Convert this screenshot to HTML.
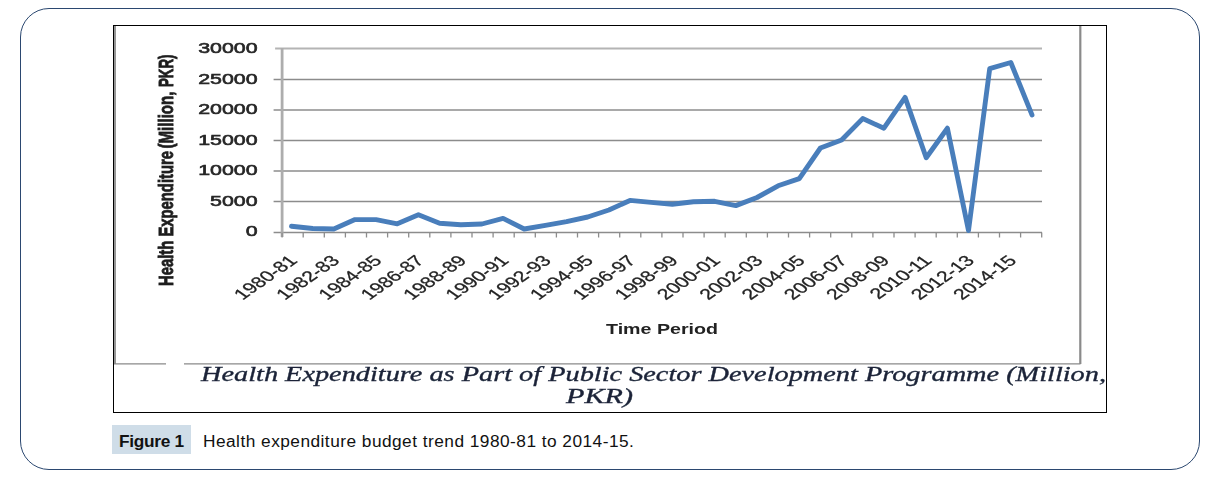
<!DOCTYPE html>
<html><head><meta charset="utf-8"><title>Figure 1</title>
<style>
html,body{margin:0;padding:0;background:#fff;}
body{width:1212px;height:481px;position:relative;overflow:hidden;font-family:"Liberation Sans",sans-serif;}
.outer{position:absolute;left:20px;top:8px;width:1180px;height:462px;border:1px solid #2b4870;border-radius:29px;box-sizing:border-box;}
.chart{position:absolute;left:0;top:0;}
.cap{position:absolute;left:112px;top:426.5px;height:29px;line-height:29px;font-size:17.3px;color:#111;white-space:nowrap;letter-spacing:0.47px;}
.cap b{letter-spacing:-0.3px;display:inline-block;width:79px;text-align:center;margin-right:12px;}
.capbg{position:absolute;left:112px;top:425px;width:79px;height:29px;background:#cfdde8;}
</style></head><body>
<div class="outer"></div>
<svg class="chart" width="1212" height="481" viewBox="0 0 1212 481">
<rect x="113.5" y="25.5" width="993" height="387" fill="#fff" stroke="#000" stroke-width="1"/>
<defs><filter id="soft" x="-2%" y="-2%" width="104%" height="104%"><feGaussianBlur stdDeviation="0.55"/></filter></defs>
<g filter="url(#soft)">
<g stroke="#8a8a8a" fill="none">
<line x1="115" x2="115" y1="26" y2="364" stroke-width="2" stroke="#969696"/>
<line x1="114" x2="166" y1="363.8" y2="363.8" stroke-width="1.3"/>
<line x1="184" x2="1080.5" y1="363.8" y2="363.8" stroke-width="1.3"/>
<line x1="1080.3" x2="1080.3" y1="26" y2="364" stroke-width="2.2"/>
</g>
<g stroke="#8c8c8c" stroke-width="1.3"><line x1="273.6" x2="1042" y1="232.5" y2="232.5"/><line x1="273.6" x2="1042" y1="201.5" y2="201.5"/><line x1="273.6" x2="1042" y1="171.0" y2="171.0"/><line x1="273.6" x2="1042" y1="140.5" y2="140.5"/><line x1="273.6" x2="1042" y1="110.0" y2="110.0"/><line x1="273.6" x2="1042" y1="79.5" y2="79.5"/><line x1="275.1" x2="1042" y1="48.5" y2="48.5" stroke="#b4b4b4" stroke-width="2"/><line x1="282.1" x2="282.1" y1="48.0" y2="237" stroke="#adadad" stroke-width="2.8"/><line x1="282.1" x2="282.1" y1="232.5" y2="237.5"/><line x1="303.2" x2="303.2" y1="232.5" y2="237.5"/><line x1="324.3" x2="324.3" y1="232.5" y2="237.5"/><line x1="345.4" x2="345.4" y1="232.5" y2="237.5"/><line x1="366.5" x2="366.5" y1="232.5" y2="237.5"/><line x1="387.6" x2="387.6" y1="232.5" y2="237.5"/><line x1="408.7" x2="408.7" y1="232.5" y2="237.5"/><line x1="429.8" x2="429.8" y1="232.5" y2="237.5"/><line x1="450.9" x2="450.9" y1="232.5" y2="237.5"/><line x1="472.0" x2="472.0" y1="232.5" y2="237.5"/><line x1="493.1" x2="493.1" y1="232.5" y2="237.5"/><line x1="514.2" x2="514.2" y1="232.5" y2="237.5"/><line x1="535.3" x2="535.3" y1="232.5" y2="237.5"/><line x1="556.4" x2="556.4" y1="232.5" y2="237.5"/><line x1="577.5" x2="577.5" y1="232.5" y2="237.5"/><line x1="598.6" x2="598.6" y1="232.5" y2="237.5"/><line x1="619.7" x2="619.7" y1="232.5" y2="237.5"/><line x1="640.8" x2="640.8" y1="232.5" y2="237.5"/><line x1="661.9" x2="661.9" y1="232.5" y2="237.5"/><line x1="683.0" x2="683.0" y1="232.5" y2="237.5"/><line x1="704.1" x2="704.1" y1="232.5" y2="237.5"/><line x1="725.2" x2="725.2" y1="232.5" y2="237.5"/><line x1="746.3" x2="746.3" y1="232.5" y2="237.5"/><line x1="767.4" x2="767.4" y1="232.5" y2="237.5"/><line x1="788.5" x2="788.5" y1="232.5" y2="237.5"/><line x1="809.6" x2="809.6" y1="232.5" y2="237.5"/><line x1="830.7" x2="830.7" y1="232.5" y2="237.5"/><line x1="851.8" x2="851.8" y1="232.5" y2="237.5"/><line x1="872.9" x2="872.9" y1="232.5" y2="237.5"/><line x1="894.0" x2="894.0" y1="232.5" y2="237.5"/><line x1="915.1" x2="915.1" y1="232.5" y2="237.5"/><line x1="936.2" x2="936.2" y1="232.5" y2="237.5"/><line x1="957.3" x2="957.3" y1="232.5" y2="237.5"/><line x1="978.4" x2="978.4" y1="232.5" y2="237.5"/><line x1="999.5" x2="999.5" y1="232.5" y2="237.5"/><line x1="1020.6" x2="1020.6" y1="232.5" y2="237.5"/><line x1="1041.7" x2="1041.7" y1="232.5" y2="237.5"/></g>
<polyline points="291.5,226.3 312.7,228.5 333.8,229.0 355.0,219.6 376.1,219.6 397.3,223.8 418.4,214.7 439.6,223.3 460.8,224.8 481.9,224.0 503.1,218.4 524.2,229.0 545.4,225.3 566.5,221.6 587.7,217.0 608.9,210.0 630.0,200.4 651.2,202.4 672.3,204.2 693.5,201.8 714.6,201.3 735.8,205.6 757.0,197.5 778.1,185.8 799.3,178.6 820.4,148.0 841.6,140.0 862.7,118.6 883.9,128.2 905.1,97.4 926.2,157.7 947.4,128.2 968.5,230.5 989.7,68.7 1010.8,62.5 1032.0,114.9" fill="none" stroke="#4a7ebb" stroke-width="4.9" stroke-linejoin="round" stroke-linecap="round"/>
<g font-family="'Liberation Sans',sans-serif" font-size="15.5" fill="#262626" stroke="#262626" stroke-width="0.6"><text x="256" y="236.2" text-anchor="end" transform="translate(257.6 0) scale(1.38 1) translate(-256 0)">0</text><text x="256" y="205.7" text-anchor="end" transform="translate(257.6 0) scale(1.38 1) translate(-256 0)">5000</text><text x="256" y="175.2" text-anchor="end" transform="translate(257.6 0) scale(1.38 1) translate(-256 0)">10000</text><text x="256" y="144.7" text-anchor="end" transform="translate(257.6 0) scale(1.38 1) translate(-256 0)">15000</text><text x="256" y="114.2" text-anchor="end" transform="translate(257.6 0) scale(1.38 1) translate(-256 0)">20000</text><text x="256" y="83.7" text-anchor="end" transform="translate(257.6 0) scale(1.38 1) translate(-256 0)">25000</text><text x="256" y="53.2" text-anchor="end" transform="translate(257.6 0) scale(1.38 1) translate(-256 0)">30000</text></g>
<g font-family="'Liberation Sans',sans-serif" font-size="15" fill="#222" stroke="#222" stroke-width="0.25"><text text-anchor="end" transform="translate(287.5 254) scale(1.43 1) rotate(-45)" x="0" y="10.7">1980-81</text><text text-anchor="end" transform="translate(329.8 254) scale(1.43 1) rotate(-45)" x="0" y="10.7">1982-83</text><text text-anchor="end" transform="translate(372.1 254) scale(1.43 1) rotate(-45)" x="0" y="10.7">1984-85</text><text text-anchor="end" transform="translate(414.4 254) scale(1.43 1) rotate(-45)" x="0" y="10.7">1986-87</text><text text-anchor="end" transform="translate(456.8 254) scale(1.43 1) rotate(-45)" x="0" y="10.7">1988-89</text><text text-anchor="end" transform="translate(499.1 254) scale(1.43 1) rotate(-45)" x="0" y="10.7">1990-91</text><text text-anchor="end" transform="translate(541.4 254) scale(1.43 1) rotate(-45)" x="0" y="10.7">1992-93</text><text text-anchor="end" transform="translate(583.7 254) scale(1.43 1) rotate(-45)" x="0" y="10.7">1994-95</text><text text-anchor="end" transform="translate(626.0 254) scale(1.43 1) rotate(-45)" x="0" y="10.7">1996-97</text><text text-anchor="end" transform="translate(668.3 254) scale(1.43 1) rotate(-45)" x="0" y="10.7">1998-99</text><text text-anchor="end" transform="translate(710.6 254) scale(1.43 1) rotate(-45)" x="0" y="10.7">2000-01</text><text text-anchor="end" transform="translate(753.0 254) scale(1.43 1) rotate(-45)" x="0" y="10.7">2002-03</text><text text-anchor="end" transform="translate(795.3 254) scale(1.43 1) rotate(-45)" x="0" y="10.7">2004-05</text><text text-anchor="end" transform="translate(837.6 254) scale(1.43 1) rotate(-45)" x="0" y="10.7">2006-07</text><text text-anchor="end" transform="translate(879.9 254) scale(1.43 1) rotate(-45)" x="0" y="10.7">2008-09</text><text text-anchor="end" transform="translate(922.2 254) scale(1.43 1) rotate(-45)" x="0" y="10.7">2010-11</text><text text-anchor="end" transform="translate(964.5 254) scale(1.43 1) rotate(-45)" x="0" y="10.7">2012-13</text><text text-anchor="end" transform="translate(1006.8 254) scale(1.43 1) rotate(-45)" x="0" y="10.7">2014-15</text></g>
<g font-family="'Liberation Sans',sans-serif" font-size="14" font-weight="bold" fill="#1e1e1e" stroke="#1e1e1e" stroke-width="0.55" transform="translate(173 286) scale(1.4 1) rotate(-90)">
<text x="0" y="0" textLength="135" lengthAdjust="spacingAndGlyphs">Health Expenditure</text>
<text x="137.5" y="0" textLength="57" lengthAdjust="spacingAndGlyphs">(Million,</text>
<text x="199" y="0" textLength="32.5" lengthAdjust="spacingAndGlyphs">PKR)</text>
</g>
<text font-family="'Liberation Sans',sans-serif" font-size="14.5" font-weight="bold" fill="#222" x="606" y="333.5" textLength="112" lengthAdjust="spacingAndGlyphs">Time Period</text>
<g font-family="'Liberation Serif',serif" font-style="italic" font-size="21" fill="#1b2438" stroke="#1b2438" stroke-width="0.35">
<text x="201" y="381.3" textLength="905" lengthAdjust="spacingAndGlyphs">Health Expenditure as Part of Public Sector Development Programme (Million,</text>
<text x="566" y="402.8" textLength="67" lengthAdjust="spacingAndGlyphs">PKR)</text>
</g>
</g>
</svg>
<div class="capbg"></div>
<div class="cap"><b>Figure 1</b>Health expenditure budget trend 1980-81 to 2014-15.</div>
</body></html>
